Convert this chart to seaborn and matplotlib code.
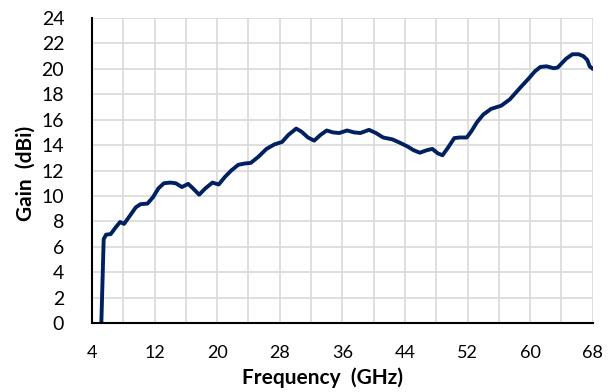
import numpy as np
import pandas as pd
import seaborn as sns
import matplotlib.pyplot as plt

freq = [5.2, 5.5, 5.8, 6.4, 7.0, 7.6, 8.1, 8.8, 9.6, 10.2, 11.1, 11.8, 12.5, 13.2,
        14.0, 14.7, 15.5, 16.3, 16.9, 17.7, 18.5, 19.4, 20.2, 21.0, 21.8, 22.7,
        23.5, 24.3, 25.3, 26.3, 27.3, 28.3, 29.1, 30.1, 30.8, 31.6, 32.4, 33.2,
        34.0, 34.8, 35.6, 36.6, 37.5, 38.3, 39.4, 40.3, 41.2, 42.4, 43.3, 44.3,
        45.1, 45.9, 46.8, 47.5, 48.2, 48.8, 49.5, 50.3, 51.0, 51.9, 52.5, 53.2,
        54.0, 55.0, 56.3, 57.4, 58.7, 59.9, 60.6, 61.3, 62.1, 63.0, 63.5, 64.6,
        65.4, 66.2, 66.8, 67.3, 67.6, 68.0]
gain = [0.0, 6.6, 6.95, 7.0, 7.5, 7.95, 7.8, 8.4, 9.1, 9.35, 9.4, 9.9, 10.6, 11.0,
        11.05, 11.0, 10.7, 10.95, 10.6, 10.1, 10.6, 11.05, 10.9, 11.5, 12.0, 12.45,
        12.55, 12.6, 13.1, 13.7, 14.05, 14.25, 14.8, 15.3, 15.05, 14.6, 14.35, 14.8,
        15.15, 15.0, 14.95, 15.15, 15.0, 14.95, 15.2, 14.95, 14.6, 14.45, 14.2, 13.9,
        13.6, 13.4, 13.6, 13.7, 13.35, 13.2, 13.8, 14.55, 14.6, 14.6, 15.1, 15.8,
        16.4, 16.85, 17.1, 17.6, 18.5, 19.3, 19.8, 20.15, 20.2, 20.05, 20.1, 20.8,
        21.15, 21.15, 21.0, 20.7, 20.2, 20.0]

x_ticks = list(range(4, 69, 8))
y_ticks = list(range(0, 25, 2))

sns.set_theme(style="whitegrid")
plt.rcParams['font.family'] = ['Lato', 'DejaVu Sans']

data = pd.DataFrame({'freq': freq, 'gain': gain})

fig = plt.figure(figsize=(6.13, 3.92), dpi=100)
ax = fig.add_axes([0.150, 0.176, 0.817, 0.778])
sns.lineplot(data=data, x='freq', y='gain', ax=ax, color='#002060',
             linewidth=2.8, solid_joinstyle='round', solid_capstyle='round')

ax.set_xlim(4, 68)
ax.set_ylim(0, 24)
ax.set_xticks(x_ticks)
ax.set_xticks(range(4, 69, 4), minor=True)
ax.set_yticks(y_ticks)
ax.grid(True, which='both', color='#d9d9d9', linewidth=1.2)
ax.set_axisbelow(True)

for side in ['top', 'right']:
    ax.spines[side].set_visible(False)
for side in ['left', 'bottom']:
    ax.spines[side].set_color('black')
    ax.spines[side].set_linewidth(1.5)
    ax.spines[side].set_zorder(3)

ax.tick_params(axis='x', which='both', length=0, pad=16, labelsize=13,
               colors='black')
ax.tick_params(axis='y', length=0, pad=20, labelsize=14, colors='black')

ax.set_xlabel('Frequency  (GHz)', fontsize=15, fontweight='bold', color='black')
ax.set_ylabel('Gain  (dBi)', fontsize=15, fontweight='bold', color='black')
ax.xaxis.set_label_coords(0.46, -0.145)
ax.yaxis.set_label_coords(-0.113, 0.49)

fig.savefig('out.png', dpi=100)
